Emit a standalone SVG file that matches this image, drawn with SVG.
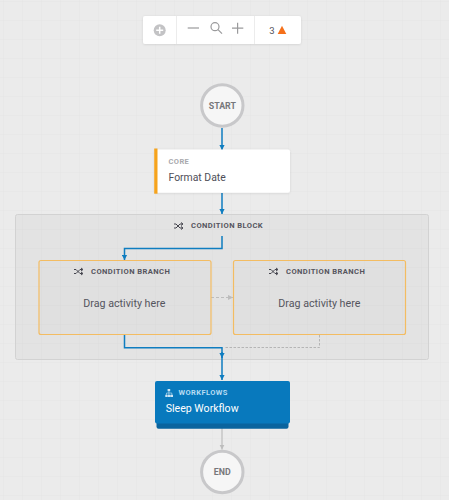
<svg xmlns="http://www.w3.org/2000/svg" width="449" height="500" viewBox="0 0 449 500">
<style>
text{font-family:Roboto,"Liberation Sans",sans-serif}
.hdr{font-size:7.6px;font-weight:700;letter-spacing:.42px;fill:#55555e}
.drag{font-size:10.7px;fill:#55555e;text-anchor:middle}
.branch{fill:#000;fill-opacity:.012;stroke:#f3bc62;stroke-width:1.2}
.blue{fill:none;stroke:#0f7dc0;stroke-width:1.5}
.term{fill:#f6f6f6;stroke:#c8c8ca;stroke-width:3}
.termt{font-size:8.8px;font-weight:700;fill:#77777b;text-anchor:middle}
.ico{fill:none;stroke:#9a9a9c;stroke-width:1.2}
.sh{fill:none;stroke:#45454e;stroke-width:1}
</style>
<defs>
<pattern id="grid" width="19" height="19" patternUnits="userSpaceOnUse" x="3" y="1"><path d="M19 0H0V19" fill="none" stroke="#e1e1e1" stroke-width=".7"/></pattern>
<marker id="ab" markerUnits="userSpaceOnUse" markerWidth="7" markerHeight="6" refX="5" refY="3" orient="auto"><path d="M0 .4L5 3L0 5.600z" fill="#0f7dc0"/></marker>
<marker id="ag" markerUnits="userSpaceOnUse" markerWidth="7" markerHeight="6" refX="5" refY="3" orient="auto"><path d="M0 .4L5 3L0 5.600z" fill="#bdbdbd"/></marker>
<g id="shuffle"><path class="sh" d="M0 1.500H2L6 5.500H8.500M0 5.500H2L6 1.500H8.500M7 0L9 1.500L7 3M7 4L9 5.500L7 7"/></g>
<filter id="soft" x="-10%" y="-20%" width="120%" height="140%"><feDropShadow dx="0" dy=".5" stdDeviation="1" flood-color="#000" flood-opacity=".12"/></filter>
</defs>
<rect width="449" height="500" fill="#ebebeb"/>
<rect width="449" height="500" fill="url(#grid)"/>

<g id="toolbar">
<rect x="143" y="16" width="158" height="28" rx="2" fill="#fff" filter="url(#soft)"/>
<path d="M176.500 16V44M254.500 16V44" stroke="#ececec" stroke-width="1"/>
<circle cx="159.700" cy="30.300" r="6" fill="#c3c3c5"/>
<path d="M156.200 30.300H163.200M159.700 26.800V33.800" stroke="#fff" stroke-width="1.500"/>
<path class="ico" d="M187.700 28H199"/>
<circle class="ico" cx="215" cy="26.700" r="4"/>
<path class="ico" d="M218 29.700L222 33.700"/>
<path class="ico" d="M232 28.200H243.300M237.600 22.700V33.700"/>
<text x="271.800" y="34.300" font-size="9.500" fill="#55555e" text-anchor="middle">3</text>
<path d="M277.700 34L282 25.700L286.300 34z" fill="#f5701a"/>
</g>

<g id="condition-block">
<rect x="15.500" y="214.500" width="413" height="145" rx="2" fill="#000" fill-opacity=".03" stroke="#d2d2d2"/>
<use href="#shuffle" x="174" y="222.500"/>
<text class="hdr" x="191" y="228">CONDITION BLOCK</text>
</g>

<g id="connectors">
<path class="blue" d="M222 128V150" marker-end="url(#ab)"/>
<path class="blue" d="M222 193V214" marker-end="url(#ab)"/>
<path class="blue" d="M222 236V248.500H124.500V260" marker-end="url(#ab)"/>
<path class="blue" d="M124.500 335V347.800H222V358" marker-end="url(#ab)"/>
<path class="blue" d="M222 352V380" marker-end="url(#ab)"/>
<path d="M211 297.500H233" fill="none" stroke="#bdbdbd" stroke-width="1" stroke-dasharray="3 2" marker-end="url(#ag)"/>
<path d="M319.500 335V347.500H224" fill="none" stroke="#a9a9a9" stroke-width=".8" stroke-dasharray="2.500 1.500"/>
<path d="M222 428V449.500" fill="none" stroke="#bdbdbd" stroke-width="1.200" marker-end="url(#ag)"/>
</g>

<g id="start">
<circle class="term" cx="222.300" cy="105.500" r="20.700"/>
<text class="termt" x="222.300" y="108.800">START</text>
</g>

<g id="format-date">
<rect x="154.500" y="149.500" width="135.500" height="43.200" rx="2" fill="#fff" filter="url(#soft)"/>
<path d="M156.500 149.500H155.200V192.700H156.500z" fill="#f5a31d" stroke="#f5a31d" stroke-width="2"/>
<text x="168.500" y="164" font-size="7.500" font-weight="700" letter-spacing=".4" fill="#a9a9ad">CORE</text>
<text x="168.500" y="180.500" font-size="10.400" fill="#4e4e58">Format Date</text>
</g>

<g id="branch-1">
<rect class="branch" x="39" y="260.500" width="172" height="74" rx="2"/>
<use href="#shuffle" x="74" y="268"/>
<text class="hdr" x="91" y="273.500">CONDITION BRANCH</text>
<text class="drag" x="124.300" y="306.500">Drag activity here</text>
</g>

<g id="branch-2">
<rect class="branch" x="233.500" y="260.500" width="172" height="74" rx="2"/>
<use href="#shuffle" x="269" y="268"/>
<text class="hdr" x="286" y="273.500">CONDITION BRANCH</text>
<text class="drag" x="319.300" y="306.500">Drag activity here</text>
</g>

<g id="sleep-workflow">
<rect x="156.500" y="400" width="132" height="28.700" rx="2" fill="#0a649e"/>
<rect x="155" y="381" width="135" height="42.500" rx="2" fill="#0879bd"/>
<path d="M167.600 389h2.600v2.200h-2.600zM165.300 394.800h2.400v2.200h-2.400zM168 394.800h2.400v2.200H168zM170.600 394.800h2.400v2.200h-2.400z" fill="#cfe6f5"/>
<path d="M168.900 391.200V394.800M166.500 394.800V393H171.800V394.800" fill="none" stroke="#cfe6f5" stroke-width=".6"/>
<text x="178.500" y="394.800" font-size="7.500" font-weight="700" letter-spacing=".4" fill="#b6dcf3">WORKFLOWS</text>
<text x="165.700" y="411.700" font-size="10.600" fill="#fff">Sleep Workflow</text>
</g>

<g id="end">
<circle class="term" cx="222.300" cy="472" r="20.700"/>
<text class="termt" x="222.300" y="475.300">END</text>
</g>
</svg>
